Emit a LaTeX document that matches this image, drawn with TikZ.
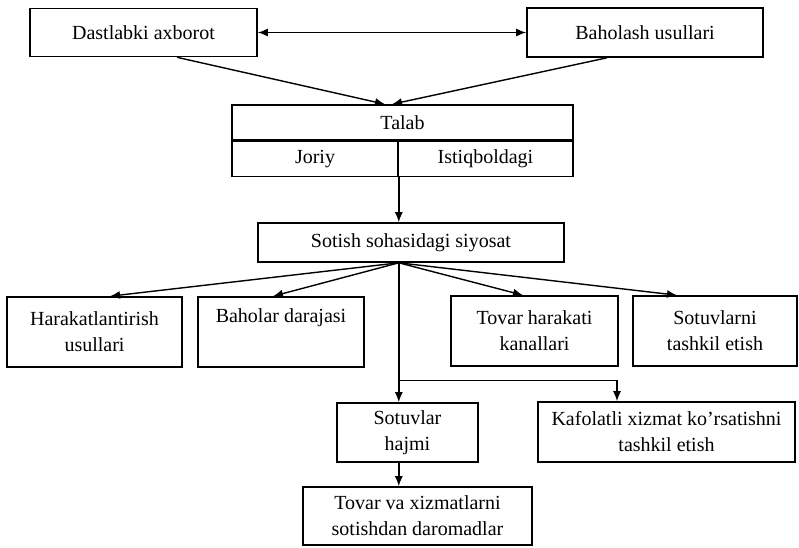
\documentclass[tikz,border=0pt]{standalone}
\usepackage{fontspec}
\setmainfont{Liberation Serif}
\usetikzlibrary{positioning,arrows.meta}

\tikzset{
  box/.style={draw, line width=0.8pt, align=center, inner sep=1pt,
    font=\fontsize{10}{13}\selectfont},
  edge/.style={-{Latex[length=5pt,width=4pt]}, line width=0.7pt},
  twoway/.style={{Latex[length=5pt,width=4pt]}-{Latex[length=5pt,width=4pt]}, line width=0.7pt},
}

\begin{document}
\begin{tikzpicture}[x=0.5pt,y=-0.5pt]
  \useasboundingbox (0,0) rectangle (799,547);

  \node[box, minimum width=113.5pt, minimum height=24pt] (dast) at (143.5,32.5) {Dastlabki axborot};
  \node[box, minimum width=118pt, minimum height=24.5pt] (baho) at (645,32.5) {Baholash usullari};
  \node[box, minimum width=170.5pt, minimum height=17.5pt] (talab) at (402.5,122.5) {Talab};
  \node[box, minimum width=83pt, minimum height=17.5pt, below=0pt of talab.south west, anchor=north west] (joriy) {Joriy};
  \node[box, minimum width=87.5pt, minimum height=17.5pt, below=0pt of talab.south east, anchor=north east] (istiq) {Istiqboldagi};
  \node[box, minimum width=153pt, minimum height=19.5pt] (sotish) at (411,242.5) {Sotish sohasidagi siyosat};
  \node[box, minimum width=87.5pt, minimum height=35pt] (hara) at (94.5,332) {Harakatlantirish\\usullari};
  \node[box, minimum width=83pt, minimum height=35pt] (bahol) at (281,332) {Baholar darajasi\\\strut};
  \node[box, minimum width=83.5pt, minimum height=35pt] (tovar) at (534.5,331) {Tovar harakati\\kanallari};
  \node[box, minimum width=82pt, minimum height=35pt] (sotuv) at (715,331) {Sotuvlarni\\tashkil etish};
  \node[box, minimum width=70.5pt, minimum height=29.5pt] (hajm) at (407.5,432.5) {Sotuvlar\\hajmi};
  \node[box, minimum width=128.5pt, minimum height=30pt] (kafo) at (666.5,432) {Kafolatli xizmat ko'rsatishni\\tashkil etish};
  \node[box, minimum width=114.5pt, minimum height=29pt] (daro) at (417.5,516) {Tovar va xizmatlarni\\sotishdan daromadlar};

  \coordinate (fan) at (joriy.south east |- sotish.south);

  \draw[twoway] (dast.east) -- (baho.west);
  \draw[edge] ([xshift=16.75pt]dast.south) -- ([xshift=-8.75pt]talab.north);
  \draw[edge] ([xshift=-19pt]baho.south) -- ([xshift=-5.25pt]talab.north);
  \draw[edge] (joriy.south east) -- (joriy.south east |- sotish.north);

  \draw[edge] (fan) -- ([xshift=7.75pt]hara.north);
  \draw[edge] (fan) -- ([xshift=-4pt]bahol.north);
  \draw[edge] (fan) -- ([xshift=-5.75pt]tovar.north);
  \draw[edge] (fan) -- ([xshift=-19pt]sotuv.north);
  \draw[edge] (fan) -- (fan |- hajm.north);
  \draw[edge] ([yshift=10.5pt]fan |- kafo.north) -| ([xshift=-24.75pt]kafo.north);
  \draw[edge] (fan |- hajm.south) -- (fan |- daro.north);

\end{tikzpicture}
\end{document}
